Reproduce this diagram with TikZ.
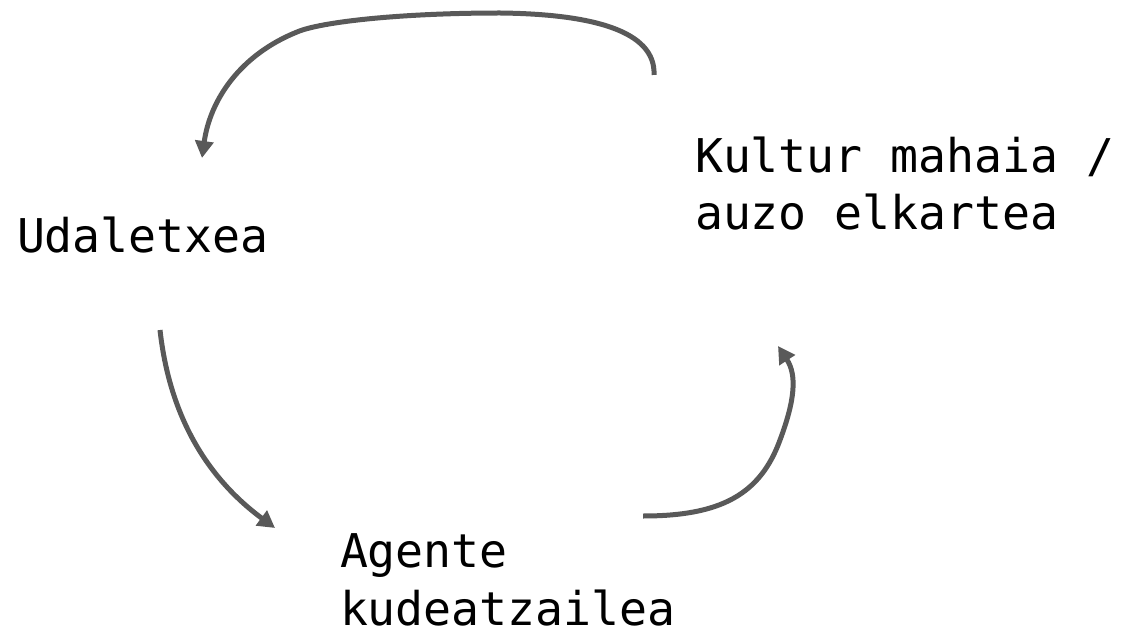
\documentclass[tikz,border=0pt]{standalone}
\usepackage{fontspec}
\setmonofont{DejaVu Sans Mono}
\usetikzlibrary{arrows.meta,calc}
\definecolor{arrowgray}{HTML}{595959}
\tikzset{
  label text/.style={anchor=base west, inner sep=0pt, outer sep=0pt, align=left,
    font=\ttfamily\fontsize{46.5}{58}\selectfont, text=black},
  flowarrow/.style={draw=arrowgray, line width=5pt,
    -{Triangle[length=17pt,width=18pt]}}
}
\begin{document}
\begin{tikzpicture}[x=1pt,y=-1pt]
\useasboundingbox (0,0) rectangle (1126,628);
\node[label text] (udal) at (17,253) {Udaletxea};
\node[label text] (kultur) at (695,230) {Kultur mahaia /\\auzo elkartea};
\node[label text] (agente) at (340,625) {Agente\\kudeatzailea};

\draw[flowarrow] ($(kultur.base west)+(-41,-155)$)
  .. controls +(2,-45) and +(90,1) .. ($(kultur.base west)+(-195,-217)$)
  .. controls +(-100,0) and +(23,-10) .. ($(kultur.base west)+(-398,-198)$)
  .. controls +(-57,23) and ($(udal.base west)+(193,-153)$) .. ($(udal.base west)+(185,-95)$);

\draw[flowarrow] ($(udal.base west)+(143,77)$)
  .. controls +(10,90) and ($(agente.base west)+(-130,-145)$) .. ($(agente.base west)+(-65,-97)$);

\draw[flowarrow] ($(agente.base west)+(303,-109)$)
  .. controls +(77,0) and +(-20,55) .. ($(kultur.base west)+(85,210)$)
  .. controls +(15,-40) and ($(kultur.base west)+(102,145)$) .. ($(kultur.base west)+(83,116)$);
\end{tikzpicture}
\end{document}
